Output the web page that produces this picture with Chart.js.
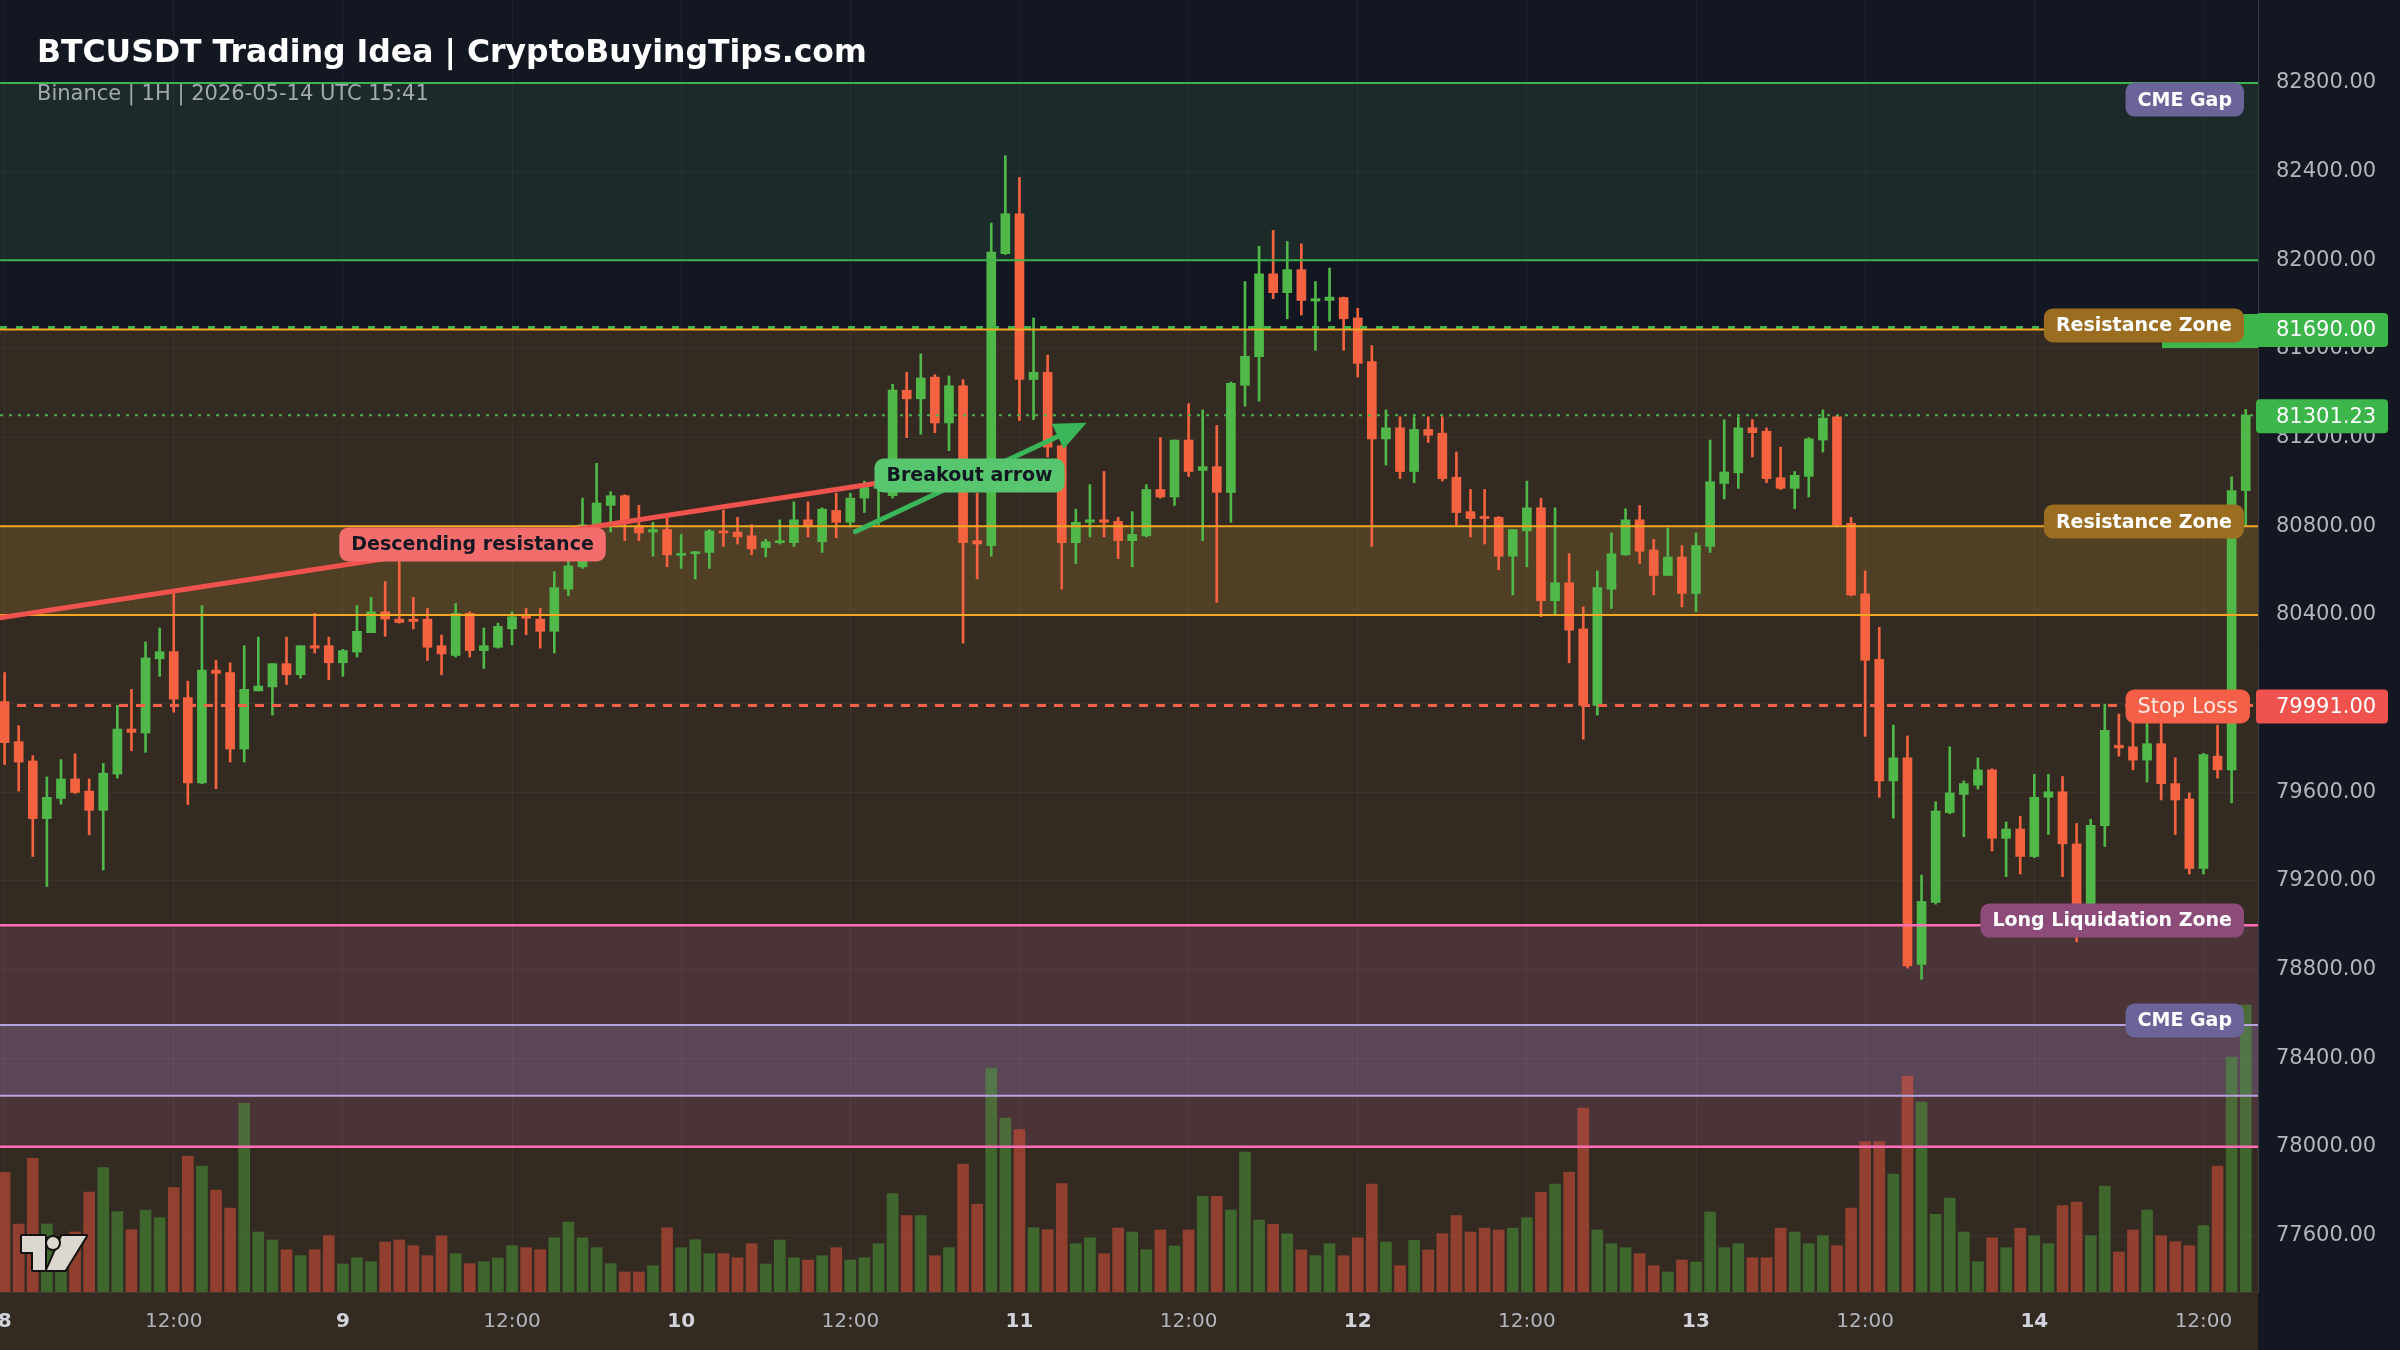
<!DOCTYPE html>
<html>
<head>
<meta charset="utf-8">
<title>BTCUSDT Trading Idea</title>
<script src="https://cdn.jsdelivr.net/npm/chart.js@4.4.1/dist/chart.umd.min.js"></script>
<style>
  html, body { margin: 0; padding: 0; background: #131722; }
  canvas { display: block; }
</style>
</head>
<body>
<canvas id="chart" width="2400" height="1350" style="width:2400px;height:1350px"></canvas>
<script>
// hourly candles, Binance BTCUSDT, starting 2026-05-08 00:00 UTC (index = hours since then)
const firstDay = 8;
const halfDayLabel = '12:00';

const opens = [
  80009,79828,79741,79481,79572,79660,79605,79518,79682,79885,
  79867,80202,80234,80027,79642,80151,80140,79795,80057,80075,
  80180,80130,80261,80261,80184,80232,80320,80414,80381,80381,
  80381,80261,80217,80407,80239,80254,80337,80396,80381,80326,
  80516,80617,80807,80894,80938,80803,80774,80785,80669,80676,
  80682,80779,80774,80757,80704,80726,80726,80829,80730,80872,
  80818,80927,80971,80938,81414,81375,81473,81266,81434,80735,
  80713,82030,82210,81462,81495,81163,80726,80818,80829,80822,
  80735,80757,80966,80932,81189,81052,81069,80953,81436,81565,
  81939,81854,81958,81816,81819,81832,81740,81543,81194,81244,
  81047,81237,81220,81021,80866,80844,80840,80665,80779,80883,
  80464,80545,80337,79992,80516,80671,80829,80693,80578,80661,
  80497,80709,80993,81041,81244,81229,81019,80971,81025,81189,
  81294,80813,80495,80200,79651,79755,78823,79103,79508,79590,
  79632,79701,79392,79434,79310,79577,79602,79367,79060,79449,
  79812,79805,79745,79819,79639,79570,79256,79763,79701,80961
];
const highs = [
  80140,79900,79765,79669,79747,79773,79660,79730,79992,80064,
  80278,80341,80501,80101,80442,80195,80184,80261,80300,80180,
  80300,80261,80407,80300,80245,80442,80479,80551,80643,80479,
  80429,80309,80451,80414,80341,80363,80414,80429,80429,80595,
  80647,80927,81084,80956,80942,80894,80818,80851,80763,80687,
  80785,80872,80840,80807,80741,80829,80910,80910,80883,80949,
  80949,81004,81015,81441,81495,81578,81484,81478,81462,80949,
  82168,82472,82374,81740,81572,81167,80877,80988,81047,80840,
  80866,80988,81200,81189,81353,81325,81255,81451,81904,82063,
  82135,82085,82074,81904,81965,81834,81784,81615,81325,81294,
  81294,81294,81294,81135,80966,80966,80844,80785,81004,80927,
  80883,80676,80436,80599,80770,80879,80894,80741,80792,80713,
  80770,81189,81281,81294,81281,81244,81157,81047,81200,81325,
  81299,80840,80599,80344,79903,79854,79226,79557,79805,79651,
  79755,79706,79466,79491,79681,79681,79671,79459,79478,79997,
  79953,79923,79923,79923,79755,79597,79775,79903,81023,81327
];
const lows = [
  79725,79605,79310,79175,79546,79594,79408,79249,79664,79787,
  79780,80123,79961,79544,79638,79616,79736,79736,80057,79948,
  80086,80114,80228,80108,80123,80210,80320,80304,80363,80337,
  80195,80130,80210,80210,80158,80250,80265,80311,80250,80228,
  80486,80610,80796,80774,80735,80735,80665,80617,80610,80562,
  80610,80709,80720,80671,80661,80720,80709,80752,80682,80748,
  80796,80862,80807,80927,81200,81215,81222,81141,80272,80562,
  80665,82026,81277,81281,81113,80516,80632,80752,80752,80654,
  80617,80752,80927,80894,81025,80735,80457,80818,81342,81364,
  81827,81736,81753,81594,81725,81594,81473,80709,81076,81015,
  80997,81178,81004,80807,80752,80720,80604,80490,80617,80392,
  80398,80184,79839,79948,80429,80669,80632,80490,80578,80436,
  80414,80682,80923,80971,81113,80997,80966,80879,80932,81135,
  80803,80486,79852,79577,79483,78806,78756,79095,79503,79399,
  79614,79335,79219,79231,79305,79409,79219,78925,79040,79355,
  79763,79701,79646,79565,79409,79231,79231,79664,79552,80801
];
const closes = [
  79824,79736,79481,79577,79660,79599,79518,79686,79885,79870,
  80206,80234,80020,79642,80151,80136,79795,80064,80079,80180,
  80130,80261,80250,80184,80239,80326,80414,80381,80366,80370,
  80254,80224,80407,80239,80261,80348,80392,80385,80326,80523,
  80621,80807,80905,80938,80818,80770,80785,80671,80676,80682,
  80779,80770,80752,80698,80730,80735,80829,80800,80877,80818,
  80927,80975,80993,81414,81375,81469,81266,81434,80726,80720,
  82037,82210,81462,81495,81157,80726,80818,80829,80818,80735,
  80763,80966,80932,81189,81047,81069,80953,81445,81567,81939,
  81854,81958,81819,81827,81834,81736,81535,81194,81244,81047,
  81237,81211,81015,80862,80835,80835,80665,80785,80883,80464,
  80545,80331,79992,80523,80676,80829,80687,80578,80661,80497,
  80713,81001,81045,81244,81222,81015,80971,81030,81194,81288,
  80807,80490,80195,79651,79755,78816,79107,79515,79597,79639,
  79701,79392,79434,79310,79577,79602,79367,79060,79451,79879,
  79800,79745,79819,79639,79565,79256,79770,79701,80961,81301.23
];
const volumes = [
  1197,680,1337,680,500,600,1000,1243,803,623,
  820,743,1043,1360,1260,1020,840,1887,600,520,
  423,363,423,563,280,343,303,500,520,463,
  363,560,383,283,303,340,463,443,423,543,
  700,543,443,283,200,200,263,643,443,523,
  383,383,343,483,280,520,343,320,363,443,
  320,343,483,983,763,763,363,443,1280,880,
  2240,1740,1623,643,623,1083,483,543,383,640,
  600,423,620,460,620,957,957,820,1400,720,
  677,583,420,363,483,363,543,1080,500,263,
  517,420,583,763,600,640,620,640,743,997,
  1080,1200,1840,620,483,443,383,263,200,320,
  300,800,443,483,343,343,640,600,483,563,
  463,840,1503,1503,1180,2160,1900,777,940,600,
  303,543,443,640,563,483,863,900,563,1060,
  400,620,820,563,503,463,663,1260,2350,2870
];

// levels drawn on the chart (prices)
const cmeGapUpper = [82000, 82800];
const resistanceTop = 81690;
const resistanceBand = [80400, 80800];
const lastPrice = 81301.23;
const stopLoss = 79991;
const liquidationBand = [78000, 79000];
const cmeGapLower = [78230, 78550];
// [hour index, price]
const trendLine = [[-0.33, 80387], [61.86, 80994]];
const breakoutArrow = [[60.37, 80776], [76.77, 81267]];

const FONT = "'DejaVu Sans', sans-serif";
const UP = '#4fb848';
const DOWN = '#f56240';
const isUp = i => closes[i] >= opens[i];

function roundedRect(ctx, x, y, w, h, r) {
  ctx.beginPath();
  ctx.moveTo(x + r, y);
  ctx.arcTo(x + w, y, x + w, y + h, r);
  ctx.arcTo(x + w, y + h, x, y + h, r);
  ctx.arcTo(x, y + h, x, y, r);
  ctx.arcTo(x, y, x + w, y, r);
  ctx.closePath();
}

function pill(ctx, x, cy, text, fill, color, font, align) {
  ctx.font = font;
  const w = ctx.measureText(text).width + 24;
  const h = 34;
  const left = align === 'right' ? x - w : x - w / 2;
  roundedRect(ctx, left, cy - h / 2, w, h, 9);
  ctx.fillStyle = fill;
  ctx.fill();
  ctx.fillStyle = color;
  ctx.textAlign = 'center';
  ctx.textBaseline = 'middle';
  ctx.fillText(text, left + w / 2, cy + 1);
}

// keep the plot flush with the canvas edges (no room reserved for half labels)
function noPadding(s) {
  s.paddingLeft = 0;
  s.paddingRight = 0;
  s.paddingTop = 0;
  s.paddingBottom = 0;
}

const overlay = {
  id: 'overlay',
  beforeDraw(chart) {
    const { ctx, chartArea: a, scales: { y } } = chart;
    ctx.save();
    ctx.fillStyle = '#131722';
    ctx.fillRect(0, 0, chart.width, chart.height);
    const band = (lo, hi, color, bottom) => {
      const t = y.getPixelForValue(hi);
      const b = bottom !== undefined ? bottom : y.getPixelForValue(lo);
      ctx.fillStyle = color;
      ctx.fillRect(a.left, t, a.right - a.left, b - t);
    };
    band(cmeGapUpper[0], cmeGapUpper[1], '#1c2b2a');
    band(null, resistanceTop, '#332a22', chart.height);
    band(resistanceBand[0], resistanceBand[1], '#4f3f25');
    band(liquidationBand[0], liquidationBand[1], '#4b3437');
    band(cmeGapLower[0], cmeGapLower[1], '#5a4657');
    ctx.restore();
  },
  afterDatasetsDraw(chart) {
    const { ctx, chartArea: a, scales: { x, y } } = chart;
    ctx.save();
    ctx.beginPath();
    ctx.rect(a.left, a.top, a.right - a.left, a.bottom - a.top);
    ctx.clip();
    const hline = (v, color, width, dash, shift) => {
      const py = y.getPixelForValue(v) + (shift || 0);
      ctx.beginPath();
      ctx.setLineDash(dash || []);
      ctx.strokeStyle = color;
      ctx.lineWidth = width;
      ctx.moveTo(a.left, py);
      ctx.lineTo(a.right, py);
      ctx.stroke();
    };
    hline(cmeGapUpper[1], '#3cb44b', 2);
    hline(cmeGapUpper[0], '#3cb44b', 2);
    hline(resistanceTop, '#3cb44b', 3, [7, 9], -1.5);
    hline(resistanceTop, '#f5a623', 2, null, 0.5);
    hline(lastPrice, '#4caf50', 2, [3, 6]);
    hline(resistanceBand[1], '#f5a623', 2);
    hline(resistanceBand[0], '#f5a623', 2);
    hline(stopLoss, '#f5604a', 3, [9, 8]);
    hline(liquidationBand[1], '#ff6eb4', 2.5);
    hline(liquidationBand[0], '#ff6eb4', 2.5);
    hline(cmeGapLower[1], '#b7a3e0', 2);
    hline(cmeGapLower[0], '#b7a3e0', 2);
    ctx.setLineDash([]);

    // descending resistance line
    ctx.beginPath();
    ctx.strokeStyle = '#f0524d';
    ctx.lineWidth = 5;
    ctx.lineCap = 'round';
    ctx.moveTo(x.getPixelForValue(trendLine[0][0]), y.getPixelForValue(trendLine[0][1]));
    ctx.lineTo(x.getPixelForValue(trendLine[1][0]), y.getPixelForValue(trendLine[1][1]));
    ctx.stroke();

    // breakout arrow
    const x0 = x.getPixelForValue(breakoutArrow[0][0]), y0 = y.getPixelForValue(breakoutArrow[0][1]);
    const x1 = x.getPixelForValue(breakoutArrow[1][0]), y1 = y.getPixelForValue(breakoutArrow[1][1]);
    const ang = Math.atan2(y1 - y0, x1 - x0);
    const head = 32, half = 14;
    const bx = x1 - head * Math.cos(ang), by = y1 - head * Math.sin(ang);
    ctx.beginPath();
    ctx.strokeStyle = '#3bb55a';
    ctx.lineWidth = 5;
    ctx.moveTo(x0, y0);
    ctx.lineTo(bx, by);
    ctx.stroke();
    ctx.beginPath();
    ctx.fillStyle = '#3bb55a';
    ctx.moveTo(x1, y1);
    ctx.lineTo(bx + half * Math.sin(ang), by - half * Math.cos(ang));
    ctx.lineTo(bx - half * Math.sin(ang), by + half * Math.cos(ang));
    ctx.closePath();
    ctx.fill();
    ctx.restore();
  },
  afterDraw(chart) {
    const { ctx, chartArea: a, scales: { x, y } } = chart;
    const bold = 'bold 19px ' + FONT;
    ctx.save();

    // price tag of the 81690 level reaches into the plot
    const ry = y.getPixelForValue(resistanceTop) + 1;
    ctx.fillStyle = '#3cb54a';
    ctx.fillRect(a.right - 96, ry - 16, 96, 34);

    // annotation boxes
    pill(ctx, x.getPixelForValue(33.2), y.getPixelForValue(80718), 'Descending resistance', '#f46d6d', '#131722', bold);
    pill(ctx, x.getPixelForValue(68.46), y.getPixelForValue(81029), 'Breakout arrow', '#58c66e', '#131722', bold);
    const rx = a.right - 14;
    pill(ctx, rx, y.getPixelForValue(82725), 'CME Gap', '#6a6499', '#ffffff', bold, 'right');
    pill(ctx, rx, y.getPixelForValue(81706), 'Resistance Zone', '#9a6d21', '#ffffff', bold, 'right');
    pill(ctx, rx, y.getPixelForValue(80821), 'Resistance Zone', '#9a6d21', '#ffffff', bold, 'right');
    pill(ctx, rx + 6, y.getPixelForValue(79987), 'Stop Loss', '#f55e47', '#ffe9e4', '21px ' + FONT, 'right');
    pill(ctx, rx, y.getPixelForValue(79021), 'Long Liquidation Zone', '#8d4b7a', '#ffffff', bold, 'right');
    pill(ctx, rx, y.getPixelForValue(78570), 'CME Gap', '#6a6499', '#ffffff', bold, 'right');

    // axis price tags
    const tag = (v, text, fill) => {
      const py = y.getPixelForValue(v) + 1;
      roundedRect(ctx, a.right - 2, py - 17, 132, 34, 4);
      ctx.fillStyle = fill;
      ctx.fill();
      ctx.fillStyle = '#ffffff';
      ctx.font = '21px ' + FONT;
      ctx.textAlign = 'left';
      ctx.textBaseline = 'middle';
      ctx.fillText(text, a.right + 18, py + 1);
    };
    tag(resistanceTop, resistanceTop.toFixed(2), '#3cb54a');
    tag(lastPrice, lastPrice.toFixed(2), '#3cb54a');
    tag(stopLoss, stopLoss.toFixed(2), '#f0524d');

    // title
    ctx.textAlign = 'left';
    ctx.textBaseline = 'alphabetic';
    ctx.fillStyle = '#ffffff';
    ctx.font = 'bold 31.5px ' + FONT;
    ctx.fillText('BTCUSDT Trading Idea | CryptoBuyingTips.com', 37, 62);
    ctx.fillStyle = '#a3a8b0';
    ctx.font = '21px ' + FONT;
    ctx.fillText('Binance | 1H | 2026-05-14 UTC 15:41', 37, 100);

    // TradingView mark
    const lx = a.left + 22, ly = a.bottom - 56;
    ctx.lineJoin = 'round';
    ctx.strokeStyle = '#111111';
    ctx.lineWidth = 4;
    ctx.fillStyle = '#dcd8cf';
    ctx.beginPath();
    ctx.moveTo(lx, ly);
    ctx.lineTo(lx + 23, ly);
    ctx.lineTo(lx + 23, ly + 34);
    ctx.lineTo(lx + 11, ly + 34);
    ctx.lineTo(lx + 11, ly + 16);
    ctx.lineTo(lx, ly + 16);
    ctx.closePath();
    ctx.moveTo(lx + 40, ly);
    ctx.lineTo(lx + 64, ly);
    ctx.lineTo(lx + 43, ly + 34);
    ctx.lineTo(lx + 25, ly + 34);
    ctx.closePath();
    ctx.stroke();
    ctx.fill();
    ctx.beginPath();
    ctx.arc(lx + 31, ly + 7, 6, 0, Math.PI * 2);
    ctx.stroke();
    ctx.fill();
    ctx.restore();
  }
};

const idx = opens.map((_, i) => i);

new Chart(document.getElementById('chart'), {
  type: 'bar',
  data: {
    datasets: [
      {
        label: 'Volume',
        data: idx.map(i => ({ x: i, y: volumes[i] })),
        yAxisID: 'yv',
        backgroundColor: idx.map(i => isUp(i) ? 'rgba(76,175,60,0.45)' : 'rgba(239,83,60,0.5)'),
        barThickness: 11,
        grouped: false,
        order: 3
      },
      {
        label: 'Wicks',
        data: idx.map(i => ({ x: i, y: [lows[i], highs[i]] })),
        yAxisID: 'y',
        backgroundColor: idx.map(i => isUp(i) ? UP : DOWN),
        barThickness: 2,
        grouped: false,
        order: 2
      },
      {
        label: 'Candles',
        data: idx.map(i => ({ x: i, y: [opens[i], closes[i]] })),
        yAxisID: 'y',
        backgroundColor: idx.map(i => isUp(i) ? UP : DOWN),
        barThickness: 9,
        minBarLength: 2,
        grouped: false,
        order: 1
      }
    ]
  },
  options: {
    responsive: false,
    animation: false,
    devicePixelRatio: 1,
    layout: { padding: 0 },
    plugins: { legend: { display: false }, tooltip: { enabled: false } },
    scales: {
      x: {
        type: 'linear',
        min: -0.326,
        max: 159.87,
        offset: false,
        grid: { color: 'rgba(255,255,255,0.045)', drawTicks: false, offset: false },
        border: { color: 'rgba(255,255,255,0.08)' },
        ticks: {
          stepSize: 12,
          includeBounds: false,
          autoSkip: false,
          maxRotation: 0,
          padding: 18,
          callback: v => v % 24 === 0 ? String(firstDay + v / 24) : halfDayLabel,
          color: c => c.tick && c.tick.value % 24 === 0 ? '#d1d4dc' : '#b2b5be',
          font: c => ({ family: FONT, size: 20, weight: c.tick && c.tick.value % 24 === 0 ? 'bold' : 'normal' })
        },
        afterFit(s) { s.height = 58; noPadding(s); }
      },
      y: {
        position: 'right',
        min: 77345,
        max: 83174.5,
        grid: { color: 'rgba(255,255,255,0.045)', drawTicks: false },
        border: { color: 'rgba(120,123,134,0.35)' },
        ticks: {
          stepSize: 400,
          includeBounds: false,
          padding: 18,
          color: '#b2b5be',
          font: { family: FONT, size: 21 },
          callback: v => v.toFixed(2)
        },
        afterFit(s) { s.width = 142; noPadding(s); }
      },
      yv: { display: false, min: 0, max: 12920 }
    }
  },
  plugins: [overlay]
});
</script>
</body>
</html>
